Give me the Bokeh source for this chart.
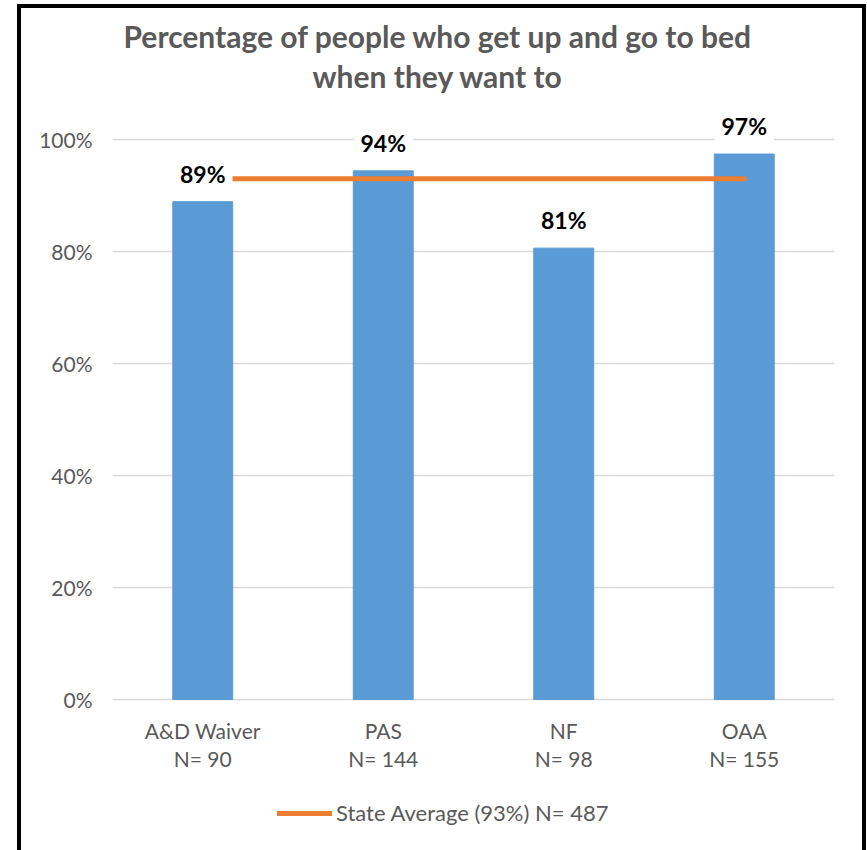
from bokeh.plotting import figure
from bokeh.models import (FactorRange, Range1d, FixedTicker, NumeralTickFormatter,
                          LabelSet, ColumnDataSource, Title, Legend, LegendItem)
from bokeh.core.properties import value
from bokeh.embed import file_html
from bokeh.resources import INLINE

categories = ["A&D Waiver\nN= 90", "PAS\nN= 144", "NF\nN= 98", "OAA\nN= 155"]
values = [0.889, 0.944, 0.806, 0.974]
value_labels = ["89%", "94%", "81%", "97%"]
state_avg = [0.93, 0.93, 0.93, 0.93]
legend_label = "State Average (93%) N= 487"
title_lines = ["Percentage of people who get up and go to bed", "when they want to"]
y_ticks = [0, 0.2, 0.4, 0.6, 0.8, 1.0]

FONT = "Lato"
GRAY = "#595959"

src = ColumnDataSource(dict(cat=categories, val=values, lab=value_labels))

p = figure(x_range=FactorRange(*categories), y_range=Range1d(-0.2696, 1.0696),
           width=841, height=842, output_backend="svg", toolbar_location=None,
           min_border_left=91, min_border_right=28, min_border_top=92,
           min_border_bottom=0)
p.styles = {"margin-left": "21px", "margin-top": "8px",
            "box-shadow": "-4px 0 0 0 #000, 4px 0 0 0 #000, 0 -4px 0 0 #000, "
                          "-4px -4px 0 0 #000, 4px -4px 0 0 #000"}
p.outline_line_color = None
p.border_fill_color = "white"

# title: second line nearest the plot, first line above it
p.add_layout(Title(text=title_lines[1], align="left", text_font=FONT, text_font_size="30px",
                   text_font_style="bold", text_color=GRAY, standoff=13, offset=200), "above")
p.add_layout(Title(text=title_lines[0], align="left", text_font=FONT, text_font_size="30px",
                   text_font_style="bold", text_color=GRAY, standoff=-8, offset=11), "above")

p.vbar(x="cat", top="val", source=src, width=0.332, color="#5b9bd5")
line = p.line(x=categories, y=state_avg, line_color="#ed7d31", line_width=5, line_cap="round")

labels = LabelSet(x="cat", y="val", text="lab", source=src, text_font=value(FONT),
                  text_font_size=value("23px"), text_font_style="bold", text_color="black",
                  text_align="center", text_baseline="bottom", y_offset=14,
                  background_fill_color="white", border_line_color="white",
                  border_line_width=14)
p.add_layout(labels)

p.yaxis.ticker = FixedTicker(ticks=y_ticks)
p.yaxis.formatter = NumeralTickFormatter(format="0%")
for ax in (p.xaxis, p.yaxis):
    ax.axis_line_color = None
    ax.major_tick_line_color = None
    ax.minor_tick_line_color = None
    ax.major_label_text_font = FONT
    ax.major_label_text_font_size = "21px"
    ax.major_label_text_color = GRAY
p.yaxis.major_label_standoff = 14
p.xaxis.fixed_location = 0
p.xaxis.major_label_standoff = 12
p.xaxis.major_label_text_line_height = 1.13

p.xgrid.grid_line_color = None
p.ygrid.grid_line_color = "#d9d9d9"
p.ygrid.grid_line_width = 1.5

legend = Legend(items=[LegendItem(label=legend_label, renderers=[line])],
                orientation="horizontal", location=(165, 24), border_line_color=None,
                background_fill_alpha=0, glyph_width=55, label_standoff=4, padding=5,
                label_text_font=FONT, label_text_font_size="22px", label_text_color=GRAY,
                margin=0)
p.add_layout(legend)

open("out.html", "w").write(file_html(p, INLINE))
